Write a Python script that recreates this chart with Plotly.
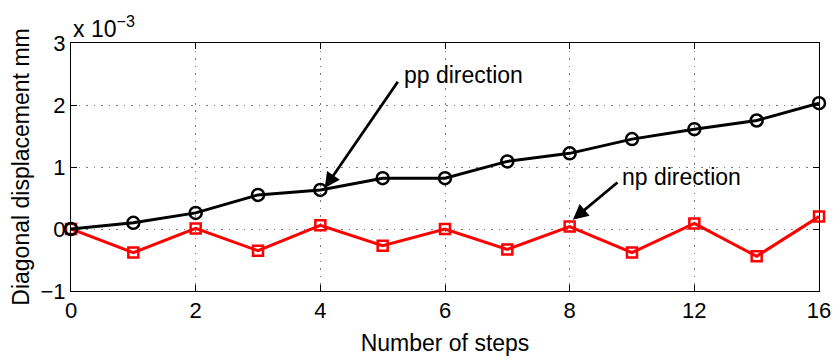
import plotly.graph_objects as go

# Step index along the horizontal axis and the step counts printed at its ticks
step_index = list(range(13))
tick_positions = [0, 2, 4, 6, 8, 10, 12]
tick_labels = ["0", "2", "4", "6", "8", "12", "16"]

# Diagonal displacement in units of 1e-3 mm
pp_disp = [0.00, 0.10, 0.26, 0.55, 0.63, 0.82, 0.82, 1.09, 1.22, 1.45, 1.61, 1.75, 2.03]
np_disp = [0.00, -0.38, 0.01, -0.35, 0.06, -0.27, 0.00, -0.33, 0.04, -0.38, 0.09, -0.44, 0.20]

FONT = "Liberation Sans, Arial, sans-serif"
TEXT_SIZE = 23

fig = go.Figure()

fig.add_trace(go.Scatter(
    x=step_index, y=np_disp, mode="lines+markers", name="np direction",
    line=dict(color="#ff0000", width=3),
    marker=dict(symbol="square-open", size=10, color="#ff0000", line=dict(width=2.5)),
    cliponaxis=False, showlegend=False,
))
fig.add_trace(go.Scatter(
    x=step_index, y=pp_disp, mode="lines+markers", name="pp direction",
    line=dict(color="#000000", width=3),
    marker=dict(symbol="circle-open", size=12, color="#000000", line=dict(width=2.5)),
    cliponaxis=False, showlegend=False,
))

axis_common = dict(
    showline=True, linecolor="black", linewidth=1, mirror="ticks",
    ticks="inside", ticklen=6, tickcolor="black", tickwidth=1,
    showgrid=True, gridcolor="#777777", griddash="1.5px,6px", gridwidth=1,
    zeroline=False, automargin=False,
    tickfont=dict(family=FONT, size=22, color="black"),
)

fig.update_xaxes(
    range=[0, 12], tickvals=tick_positions, ticktext=tick_labels,
    title=dict(text="Number of steps", font=dict(family=FONT, size=TEXT_SIZE, color="black"), standoff=12),
    **axis_common,
)
fig.update_yaxes(
    range=[-1, 3], tickvals=[-1, 0, 1, 2, 3], ticktext=["\u22121", "0", "1", "2", "3"],
    title=dict(text="Diagonal displacement mm", font=dict(family=FONT, size=TEXT_SIZE, color="black"), standoff=4),
    **axis_common,
)

# Arrows pointing at the two curves
fig.add_annotation(x=4.07, y=0.66, ax=5.26, ay=2.40, xref="x", yref="y", axref="x", ayref="y",
                   text="", showarrow=True, arrowhead=2, arrowsize=1.1, arrowwidth=2.8, arrowcolor="black")
fig.add_annotation(x=8.05, y=0.15, ax=8.79, ay=0.77, xref="x", yref="y", axref="x", ayref="y",
                   text="", showarrow=True, arrowhead=2, arrowsize=1.1, arrowwidth=2.8, arrowcolor="black")
fig.add_annotation(x=5.31, y=2.48, xref="x", yref="y", text="pp direction", showarrow=False,
                   xanchor="left", yanchor="middle", font=dict(family=FONT, size=TEXT_SIZE, color="black"))
fig.add_annotation(x=8.81, y=0.84, xref="x", yref="y", text="np direction", showarrow=False,
                   xanchor="left", yanchor="middle", font=dict(family=FONT, size=TEXT_SIZE, color="black"))

# Axis exponent
fig.add_annotation(x=0, y=1, xref="paper", yref="paper", text="x 10<sup>\u22123</sup>", showarrow=False,
                   xanchor="left", yanchor="bottom", yshift=-1,
                   font=dict(family=FONT, size=TEXT_SIZE, color="black"))

fig.update_layout(
    width=838, height=360,
    margin=dict(l=71, r=19, t=43, b=69, autoexpand=False),
    paper_bgcolor="white", plot_bgcolor="white",
    font=dict(family=FONT, size=TEXT_SIZE, color="black"),
)

fig.write_html("out.html")
